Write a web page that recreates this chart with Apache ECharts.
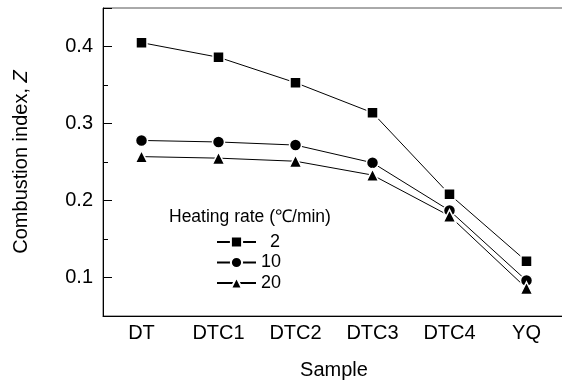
<!DOCTYPE html>
<html>
<head>
<meta charset="utf-8">
<script src="https://cdn.jsdelivr.net/npm/echarts@6/dist/echarts.min.js"></script>
<style>
  html, body { margin: 0; padding: 0; background: #fff; }
  #main { width: 562px; height: 381px; }
</style>
</head>
<body>
<div id="main"></div>
<script>
var samples = ['DT', 'DTC1', 'DTC2', 'DTC3', 'DTC4', 'YQ'];
var rateNames = ['2', '10', '20'];
var rate2 = [0.405, 0.386, 0.353, 0.314, 0.208, 0.121];
var rate10 = [0.278, 0.276, 0.272, 0.249, 0.187, 0.096];
var rate20 = [0.257, 0.255, 0.251, 0.233, 0.180, 0.086];

var FONT = 'Liberation Sans';

function makeSeries(name, values, symbol, size) {
  return {
    name: name,
    type: 'line',
    data: values,
    symbol: symbol,
    symbolSize: size,
    showAllSymbol: true,
    lineStyle: { color: '#000', width: 1 },
    itemStyle: { color: '#000', borderColor: '#fff', borderWidth: 1.5 },
    emphasis: { disabled: true },
    animation: false
  };
}

var myChart = echarts.init(document.getElementById('main'));
var option = {
  backgroundColor: '#fff',
  animation: false,
  textStyle: { fontFamily: FONT, color: '#000' },
  grid: {
    left: 103,
    right: -3,
    top: 8,
    bottom: 65,
    outerBoundsMode: 'none',
    containLabel: false,
    show: true,
    borderColor: '#555',
    borderWidth: 1
  },
  title: {
    text: 'Heating rate (℃/min)',
    left: 169,
    top: 208,
    padding: 0,
    textStyle: { fontFamily: FONT, fontSize: 17.5, fontWeight: 'normal', color: '#000' }
  },
  legend: {
    orient: 'vertical',
    left: 216,
    top: 232,
    padding: 0,
    itemWidth: 39,
    itemHeight: 14,
    itemGap: 0.5,
    data: rateNames,
    formatter: function (name) {
      return name.length < 2 ? '\u2002' + name : name;
    },
    textStyle: { fontFamily: FONT, fontSize: 18, color: '#000', lineHeight: 20 }
  },
  xAxis: {
    type: 'category',
    data: samples,
    boundaryGap: true,
    name: 'Sample',
    nameLocation: 'middle',
    nameGap: 44,
    nameTextStyle: { fontFamily: FONT, fontSize: 20, color: '#000' },
    axisLine: { lineStyle: { color: '#000', width: 1 } },
    axisTick: { inside: true, alignWithLabel: true, length: 9, lineStyle: { color: '#000' } },
    axisLabel: { fontFamily: FONT, fontSize: 20, color: '#000', margin: 7 },
    splitLine: { show: false }
  },
  yAxis: [{
    type: 'value',
    min: 0.05,
    max: 0.45,
    interval: 0.05,
    name: 'Combustion index, {i|Z}',
    nameLocation: 'middle',
    nameGap: 72,
    nameTextStyle: {
      fontFamily: FONT, fontSize: 20, color: '#000',
      rich: { i: { fontFamily: FONT, fontSize: 20, fontStyle: 'italic', color: '#000' } }
    },
    axisLine: { show: true, lineStyle: { color: '#000', width: 1 } },
    axisTick: { show: true, inside: true, length: 5, lineStyle: { color: '#000' } },
    axisLabel: {
      fontFamily: FONT, fontSize: 20, color: '#000', margin: 10,
      formatter: function (v) {
        var t = v * 10;
        return Math.abs(t - Math.round(t)) < 1e-6 ? v.toFixed(1) : '';
      }
    },
    splitLine: { show: false }
  }, {
    type: 'value',
    min: 0.05,
    max: 0.45,
    splitNumber: 4,
    position: 'left',
    axisLine: { show: false },
    axisTick: { show: true, inside: true, length: 9, lineStyle: { color: '#000' } },
    axisLabel: { show: false },
    splitLine: { show: false }
  }],
  series: [
    makeSeries(rateNames[0], rate2, 'rect', 11),
    makeSeries(rateNames[1], rate10, 'circle', 12),
    makeSeries(rateNames[2], rate20, 'triangle', 12.5)
  ]
};
myChart.setOption(option);
</script>
</body>
</html>
